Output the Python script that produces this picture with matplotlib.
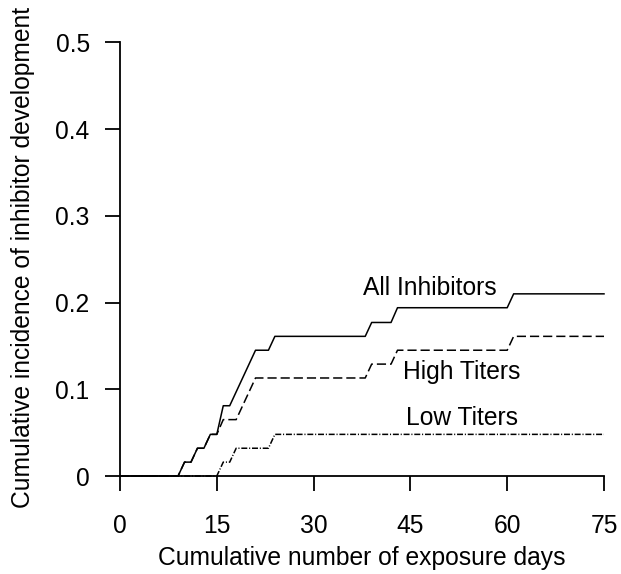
import numpy as np
import matplotlib
matplotlib.use('Agg')
import matplotlib.pyplot as plt

plt.rcParams['font.family'] = ['Liberation Sans', 'DejaVu Sans']

# step curves (exposure day, cumulative incidence)
all_days = [0, 9, 10, 11, 12, 13, 14, 15, 16, 17, 21, 23, 24, 38, 39, 42, 43, 60, 61, 75]
all_inc = [0, 0, 0.016, 0.016, 0.032, 0.032, 0.048, 0.048, 0.081, 0.081, 0.145, 0.145,
           0.161, 0.161, 0.177, 0.177, 0.194, 0.194, 0.210, 0.210]

high_days = [0, 9, 10, 11, 12, 13, 14, 15, 16, 18, 21, 38, 39, 42, 43, 60, 61, 75]
high_inc = [0, 0, 0.016, 0.016, 0.032, 0.032, 0.048, 0.048, 0.065, 0.065, 0.113, 0.113,
            0.129, 0.129, 0.145, 0.145, 0.161, 0.161]

low_days = [0, 15, 16, 17, 18, 23, 24, 75]
low_inc = [0, 0, 0.016, 0.016, 0.032, 0.032, 0.048, 0.048]

xticks = [0, 15, 30, 45, 60, 75]
yticks = [0, 0.1, 0.2, 0.3, 0.4, 0.5]
yticklabels = ['0', '0.1', '0.2', '0.3', '0.4', '0.5']

fs = 17.7

fig = plt.figure(figsize=(6.21, 5.74), dpi=100)
ax = fig.add_axes([0.19324, 0.17073, 0.77939, 0.75557])

ax.plot(all_days, all_inc, color='black', lw=1.1, clip_on=False)
ax.plot(high_days, high_inc, color='black', lw=1.1, dashes=(6, 2.6), clip_on=False)
ax.plot(low_days, low_inc, color='black', lw=1.1, dashes=(3.9, 1.2, 0.7, 1.2), clip_on=False)

ax.text(48.04, 0.2087, 'All Inhibitors', ha='center', va='baseline', fontsize=fs)
ax.text(53.0, 0.1118, 'High Titers', ha='center', va='baseline', fontsize=fs)
ax.text(53.0, 0.0588, 'Low Titers', ha='center', va='baseline', fontsize=fs)

ax.set_xlim(0, 75)
ax.set_ylim(0, 0.5)
ax.set_xticks(xticks)
ax.set_yticks(yticks)
ax.set_yticklabels(yticklabels)
ax.tick_params(direction='out', length=11, width=1.3, labelsize=fs)
ax.tick_params(axis='x', pad=16)
ax.tick_params(axis='y', pad=10.8)
for lab in ax.get_yticklabels():
    lab.set_verticalalignment('center_baseline')
for s in ['top', 'right']:
    ax.spines[s].set_visible(False)
for s in ['left', 'bottom']:
    ax.spines[s].set_linewidth(1.3)

ax.set_xlabel('Cumulative number of exposure days', fontsize=fs, va='baseline')
ax.set_ylabel('Cumulative incidence of inhibitor development', fontsize=fs)
ax.xaxis.set_label_coords(0.5, -0.2052)
ax.yaxis.set_label_coords(-0.1756, 0.503)

fig.savefig('out.png', dpi=100)
